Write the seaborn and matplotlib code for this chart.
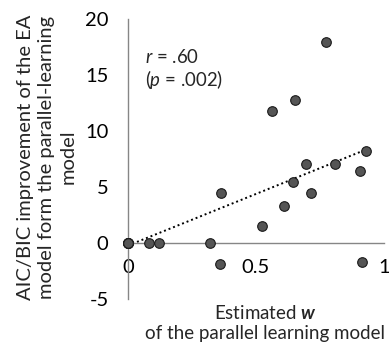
import matplotlib
matplotlib.use("Agg")
import matplotlib.pyplot as plt
import numpy as np
import pandas as pd
import seaborn as sns

# Data (estimated w vs AIC/BIC improvement)
w_est = [0, 0, 0, 0, 0, 0.082, 0.122, 0.319, 0.358, 0.365, 0.524, 0.5625,
         0.608, 0.643, 0.654, 0.694, 0.714, 0.773, 0.81, 0.906, 0.914, 0.93]
improvement = [0, 0, 0, 0, 0, 0, 0, 0, -1.9, 4.4, 1.46, 11.8,
               3.3, 5.41, 12.78, 7.04, 4.43, 17.95, 7.01, 6.39, -1.75, 8.17]
x_ticks = [0, 0.5, 1]
x_tick_labels = ["0", "0.5", "1"]
y_ticks = [-5, 0, 5, 10, 15, 20]

df = pd.DataFrame({"w": w_est, "imp": improvement})

sns.set_style("white")
plt.rcParams["font.family"] = ["Lato", "DejaVu Sans"]
plt.rcParams["axes.unicode_minus"] = False
plt.rcParams["mathtext.fontset"] = "custom"
plt.rcParams["mathtext.rm"] = "Lato"
plt.rcParams["mathtext.it"] = "Lato:italic"
plt.rcParams["mathtext.bf"] = "Lato:bold:italic"

fig = plt.figure(figsize=(3.89, 3.5), dpi=100)
ax = fig.add_axes([0.329, 0.146, 0.658, 0.801])

axis_grey = "#868686"
fs = 14.5

sns.regplot(x="w", y="imp", data=df, ax=ax, scatter=False, ci=None,
            line_kws=dict(color="black", linestyle=(0, (1, 1.5)), lw=1.4))
sns.scatterplot(x="w", y="imp", data=df, ax=ax, s=48, color="#555555",
                edgecolor="#1a1a1a", linewidth=0.8, clip_on=False, zorder=3)

ax.set_xlim(0, 1)
ax.set_ylim(-5, 20)
ax.set_xticks(x_ticks)
ax.set_xticklabels(x_tick_labels)
ax.set_yticks(y_ticks)
ax.set_xlabel("")
ax.set_ylabel("")

for s in ["top", "right"]:
    ax.spines[s].set_visible(False)
ax.spines["bottom"].set_position(("data", 0))
for s in ["left", "bottom"]:
    ax.spines[s].set_color(axis_grey)
    ax.spines[s].set_linewidth(1.0)
ax.tick_params(axis="x", length=0, pad=12, labelsize=fs, colors="black")
ax.tick_params(axis="y", length=0, pad=14, labelsize=fs, colors="black")

ax.text(0.066, 17.4, "$r$ = .60\n($p$ = .002)", fontsize=13.4, va="top",
        ha="left", linespacing=1.1)

fig.text(47 / 389, 1 - 157 / 350,
         "AIC/BIC improvement of the EA\nmodel form the parallel-learning\nmodel",
         rotation=90, ha="center", va="center", multialignment="center",
         fontsize=fs, linespacing=1.3)
fig.text(265 / 389, 1 - 323 / 350,
         "Estimated $\\mathbf{w}$\nof the parallel learning model",
         ha="center", va="center", multialignment="center", fontsize=13.5,
         linespacing=1.25)

fig.savefig("out.png", dpi=100)
